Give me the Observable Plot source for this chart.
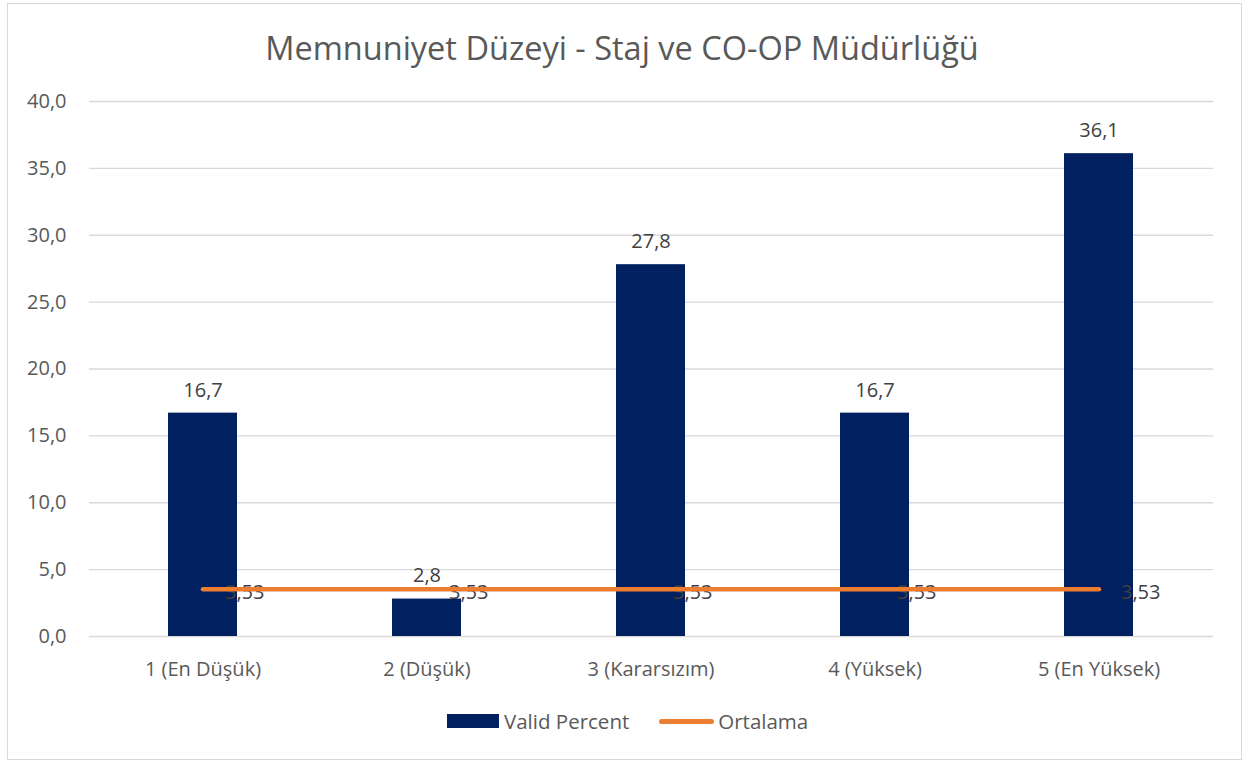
<!DOCTYPE html>
<html>
<head>
<meta charset="utf-8">
<script src="https://cdn.jsdelivr.net/npm/d3@7"></script>
<script src="https://cdn.jsdelivr.net/npm/@observablehq/plot@0.6"></script>
<style>
  html, body { margin: 0; padding: 0; background: #fff; }
  body { width: 1244px; height: 761px; position: relative; overflow: hidden; font-family: "Open Sans", sans-serif; }
  #frame { position: absolute; left: 7px; top: 3px; width: 1235px; height: 757px; border: 1px solid #D9D9D9; box-sizing: border-box; }
  #title { position: absolute; left: 0; top: 26px; width: 1244px; text-align: center; font-size: 32.5px; line-height: 44px; color: #595959; }
  #chart { position: absolute; left: 8px; top: 84px; }
  #legend { position: absolute; left: 447px; top: 708px; height: 26px; display: flex; align-items: center; font-size: 20.5px; color: #595959; }
  .sw-bar { width: 52px; height: 14px; background: #002060; margin-right: 5px; }
  .sw-line { width: 55px; height: 5px; border-radius: 3px; background: #ED7D31; margin-left: 30px; margin-right: 4px; }
</style>
</head>
<body>
<div id="frame"></div>
<div id="title">Memnuniyet Düzeyi - Staj ve CO-OP Müdürlüğü</div>
<div id="chart"></div>
<div id="legend">
  <div class="sw-bar"></div><span>Valid Percent</span>
  <div class="sw-line"></div><span>Ortalama</span>
</div>
<script>
const categories = ["1 (En Düşük)", "2 (Düşük)", "3 (Kararsızım)", "4 (Yüksek)", "5 (En Yüksek)"];
const validPercent = [16.7, 2.8, 27.8, 16.7, 36.1];
const ortalama = [3.53, 3.53, 3.53, 3.53, 3.53];
const yTicks = [0, 5, 10, 15, 20, 25, 30, 35, 40];

const data = categories.map((c, i) => ({cat: c, v: validPercent[i], m: ortalama[i]}));
const fmt1 = d => d.toFixed(1).replace(".", ",");
const fmt2 = d => d.toFixed(2).replace(".", ",");

const chart = Plot.plot({
  width: 1232,
  height: 602,
  marginTop: 17,
  marginBottom: 50,
  marginLeft: 81,
  marginRight: 27,
  style: {fontFamily: "'Open Sans', sans-serif", fontSize: "20px", color: "#595959", background: "transparent"},
  x: {domain: categories, paddingInner: 0.69, paddingOuter: 0.345, label: null},
  y: {domain: [0, 40], label: null},
  marks: [
    Plot.gridY(yTicks, {stroke: "#D9D9D9", strokeOpacity: 1, strokeWidth: 1.3}),
    Plot.barY(data, {x: "cat", y: "v", fill: "#002060"}),
    Plot.text(data, {x: "cat", y: "v", text: d => fmt1(d.v), dy: -23, fill: "#404040", fontSize: 20}),
    Plot.text(data, {x: "cat", y: "m", text: d => fmt2(d.m), textAnchor: "start", dx: 22, dy: 3, fill: "#404040", fontSize: 20}),
    Plot.line(data, {x: "cat", y: "m", stroke: "#ED7D31", strokeWidth: 4.5, strokeLinecap: "round"}),
    Plot.axisX({tickSize: 0, tickPadding: 25, fill: "#595959", fontSize: 20}),
    Plot.axisY(yTicks, {tickSize: 0, tickPadding: 23, tickFormat: fmt1, fill: "#595959", fontSize: 20})
  ]
});
document.getElementById("chart").appendChild(chart);
</script>
</body>
</html>
